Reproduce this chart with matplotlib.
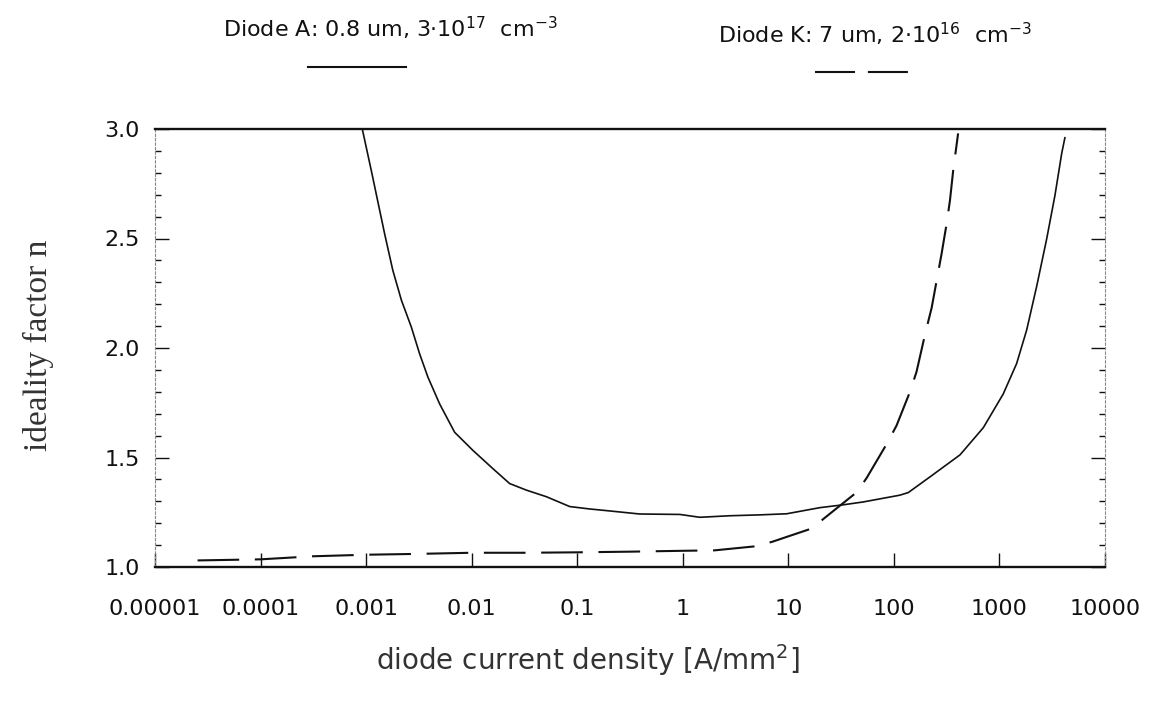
import matplotlib
matplotlib.use("Agg")
import matplotlib.pyplot as plt
from matplotlib.lines import Line2D
from matplotlib.ticker import FixedLocator, LogLocator, NullFormatter, MultipleLocator
import numpy as np

# ---- data ----
# Diode A: 0.8 um, 3e17 cm^-3 (solid)
diode_a_j = [9.2e-4, 1.12e-3, 1.50e-3, 1.79e-3, 2.16e-3, 2.68e-3, 3.21e-3, 3.85e-3,
             4.98e-3, 6.90e-3, 0.0103, 0.0159, 0.0229, 0.0330, 0.0510, 0.0849,
             0.131, 0.203, 0.391, 0.938, 1.45, 2.79, 5.36, 9.64, 19.9, 33.1,
             51.2, 114, 137, 219, 423, 703, 1086, 1455, 1811, 2254, 2799, 3357,
             3890, 4169]
diode_a_n = [3.0, 2.81, 2.52, 2.355, 2.218, 2.096, 1.974, 1.867,
             1.744, 1.615, 1.532, 1.449, 1.381, 1.351, 1.321, 1.276,
             1.265, 1.256, 1.242, 1.240, 1.227, 1.234, 1.238, 1.243, 1.271, 1.284,
             1.297, 1.328, 1.340, 1.411, 1.512, 1.636, 1.790, 1.929, 2.082, 2.282,
             2.497, 2.697, 2.889, 2.96]

# Diode K: 7 um, 2e16 cm^-3 (dashed)
diode_k_j = [2.53e-5, 1e-4, 3.16e-4, 1e-3, 3.16e-3, 0.01, 0.0316, 0.1, 0.316, 1.0,
             2.0, 5.0, 7.13, 10, 16.7, 22.2, 44.6, 55.1, 85.3, 106, 142, 164,
             197, 228, 254, 283, 316, 340, 365, 406]
diode_k_n = [1.030, 1.035, 1.049, 1.056, 1.060, 1.065, 1.065, 1.067, 1.070, 1.074,
             1.076, 1.095, 1.116, 1.14, 1.176, 1.225, 1.342, 1.406, 1.561, 1.646,
             1.80, 1.892, 2.061, 2.184, 2.307, 2.43, 2.568, 2.675, 2.813, 2.98]

x_ticks = [1e-5, 1e-4, 1e-3, 1e-2, 1e-1, 1, 10, 100, 1000, 10000]
x_tick_labels = ["0.00001", "0.0001", "0.001", "0.01", "0.1", "1", "10", "100",
                 "1000", "10000"]
y_ticks = [1.0, 1.5, 2.0, 2.5, 3.0]
y_tick_labels = ["1.0", "1.5", "2.0", "2.5", "3.0"]

label_a = "Diode A: 0.8 um, 3·10$^{17}$  cm$^{-3}$"
label_k = "Diode K: 7 um, 2·10$^{16}$  cm$^{-3}$"
x_label = "diode current density [A/mm$^2$]"
y_label = "ideality factor n"

ink = "#111111"
W, H = 1155, 706

fig = plt.figure(figsize=(W / 100, H / 100), dpi=100)
ax = fig.add_axes([155 / W, 1 - 567 / H, (1105 - 155) / W, (567 - 129) / H])

ax.plot(diode_a_j, diode_a_n, color=ink, lw=1.2, solid_joinstyle="round")
ax.plot(diode_k_j, diode_k_n, color=ink, lw=1.5, dashes=(20, 7.5))

ax.set_xscale("log")
ax.set_xlim(1e-5, 1e4)
ax.set_ylim(1.0, 3.0)

ax.xaxis.set_major_locator(FixedLocator(x_ticks))
ax.set_xticklabels(x_tick_labels)
ax.xaxis.set_minor_locator(LogLocator(base=10, subs=np.arange(2, 10)))
ax.xaxis.set_minor_formatter(NullFormatter())
ax.yaxis.set_major_locator(FixedLocator(y_ticks))
ax.set_yticklabels(y_tick_labels)
ax.yaxis.set_minor_locator(MultipleLocator(0.1))

ax.tick_params(axis="x", which="both", direction="in", top=False, bottom=True,
               colors=ink, labelsize=16, pad=23)
ax.tick_params(axis="x", which="major", length=10, width=1.0)
ax.tick_params(axis="x", which="minor", length=5, width=0.9)
ax.tick_params(axis="y", which="both", direction="in", left=True, right=True,
               colors=ink, labelsize=16, pad=11)
ax.tick_params(axis="y", which="major", length=10, width=1.0)
ax.tick_params(axis="y", which="minor", length=4, width=1.0)

for side in ("top", "bottom"):
    ax.spines[side].set_linewidth(1.7)
    ax.spines[side].set_color(ink)
for side in ("left", "right"):
    ax.spines[side].set_linewidth(0.8)
    ax.spines[side].set_color("#888888")
    ax.spines[side].set_linestyle((0, (2, 2)))

fig.text(588 / W, 1 - 660 / H, x_label, ha="center", va="center", fontsize=20,
         color="#333333", family="DejaVu Sans")
fig.text(38 / W, 1 - 345 / H, y_label, ha="center", va="center", fontsize=24,
         rotation=90, color="#333333", family="Liberation Serif")

# legend-like header
fig.text(390 / W, 1 - 28 / H, label_a, ha="center", va="center",
         fontsize=16, color=ink)
fig.add_artist(Line2D([308 / W, 406 / W], [1 - 67 / H, 1 - 67 / H],
                      color=ink, lw=1.5, transform=fig.transFigure))
fig.text(875 / W, 1 - 34 / H, label_k, ha="center", va="center",
         fontsize=16, color=ink)
fig.add_artist(Line2D([815 / W, 908 / W], [1 - 72 / H, 1 - 72 / H],
                      color=ink, lw=1.5, dashes=(19.2, 6.2),
                      transform=fig.transFigure))

fig.savefig("out.png", dpi=100, facecolor="white")
